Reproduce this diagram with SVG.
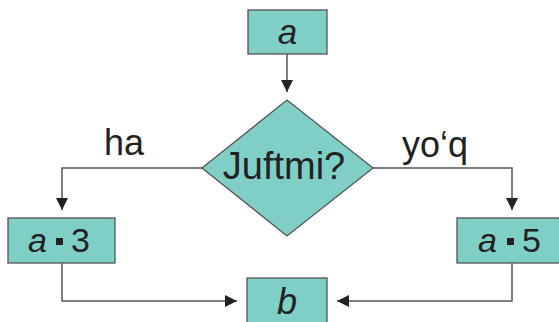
<svg xmlns="http://www.w3.org/2000/svg" width="559" height="322" viewBox="0 0 559 322">
<defs>
<style>
.box{fill:#7fcfc7;stroke:#555;stroke-width:1.3}
.ln{fill:none;stroke:#555;stroke-width:1.5;marker-end:url(#ah)}
.t{font-family:"Liberation Sans",Arial,sans-serif;fill:#222}
.i{font-style:italic}
</style>
<marker id="ah" viewBox="0 0 12 12" refX="12" refY="6" markerWidth="12" markerHeight="12" markerUnits="userSpaceOnUse" orient="auto">
<path d="M0,0 L12,6 L0,12 z" fill="#222"/>
</marker>
</defs>
<rect width="559" height="322" fill="#fff"/>
<g id="connectors">
<path class="ln" d="M287,54 V92"/>
<path class="ln" d="M202,168 H62 V210"/>
<path class="ln" d="M373,168 H512 V210"/>
<path class="ln" d="M62,263 V301 H237"/>
<path class="ln" d="M512,263 V301 H337"/>
</g>
<g id="label-ha"><text class="t" x="104" y="155" font-size="36">ha</text></g>
<g id="label-yoq"><text class="t" x="402" y="157" font-size="36">yo‘q</text></g>
<g id="node-a">
<rect class="box" x="248" y="10" width="79" height="44"/>
<text class="t i" x="287.5" y="44" font-size="35" text-anchor="middle">a</text>
</g>
<g id="node-cond">
<polygon class="box" points="287,100 373,168 287,236 202,168"/>
<text class="t" x="284" y="179" font-size="38" text-anchor="middle">Juftmi?</text>
</g>
<g id="node-a3">
<rect class="box" x="8" y="218" width="107" height="45"/>
<text class="t i" x="28" y="252" font-size="34">a</text>
<rect x="56" y="238" width="7" height="7" fill="#222"/>
<text class="t" x="71" y="252" font-size="34">3</text>
</g>
<g id="node-a5">
<rect class="box" x="457" y="218" width="110" height="45"/>
<text class="t i" x="478" y="252" font-size="34">a</text>
<rect x="507" y="238" width="7" height="7" fill="#222"/>
<text class="t" x="522" y="252" font-size="34">5</text>
</g>
<g id="node-b">
<rect class="box" x="247" y="278" width="80" height="50"/>
<text class="t i" x="287" y="314" font-size="36" text-anchor="middle">b</text>
</g>
</svg>
